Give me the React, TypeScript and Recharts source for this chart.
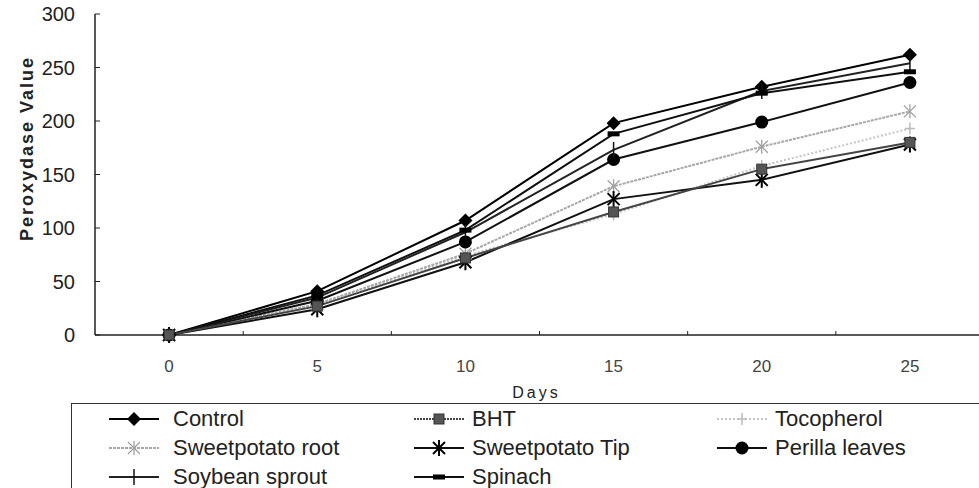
import React from 'react';
import { LineChart, Line, XAxis, YAxis, Legend } from 'recharts';

const days = [0, 5, 10, 15, 20, 25];
const control = [0, 41, 107, 198, 232, 262];
const bht = [0, 27, 72, 115, 155, 180];
const tocopherol = [0, 28, 74, 113, 158, 193];
const sweetpotatoRoot = [0, 29, 76, 139, 176, 209];
const sweetpotatoTip = [0, 24, 68, 127, 145, 178];
const perillaLeaves = [0, 32, 87, 164, 199, 236];
const soybeanSprout = [0, 35, 96, 173, 228, 254];
const spinach = [0, 37, 98, 188, 226, 246];

const yTicks = [0, 50, 100, 150, 200, 250, 300];
// labels sit on the days, small tick marks sit half way between them
const xTicks = [0, 2.5, 5, 7.5, 10, 12.5, 15, 17.5, 20, 22.5, 25];

const FONT = '"Liberation Sans", Arial, sans-serif';

type Kind = 'diamond' | 'square' | 'tplus' | 'xstar' | 'star' | 'circle' | 'plus' | 'dash';

const series: { key: string; name: string; values: number[]; color: string; width: number; dash?: string; legendDash?: string; kind: Kind }[] = [
  { key: 'control', name: 'Control', values: control, color: '#000', width: 2, kind: 'diamond' },
  { key: 'bht', name: 'BHT', values: bht, color: '#444', width: 2, legendDash: '2 1', kind: 'square' },
  { key: 'tocopherol', name: 'Tocopherol', values: tocopherol, color: '#c4c4c4', width: 2, dash: '2 2', legendDash: '2 2', kind: 'tplus' },
  { key: 'sweetpotatoRoot', name: 'Sweetpotato root', values: sweetpotatoRoot, color: '#a8a8a8', width: 2, dash: '3 1', legendDash: '3 1', kind: 'xstar' },
  { key: 'sweetpotatoTip', name: 'Sweetpotato Tip', values: sweetpotatoTip, color: '#111', width: 2, kind: 'star' },
  { key: 'perillaLeaves', name: 'Perilla leaves', values: perillaLeaves, color: '#111', width: 2, kind: 'circle' },
  { key: 'soybeanSprout', name: 'Soybean sprout', values: soybeanSprout, color: '#222', width: 2, kind: 'plus' },
  { key: 'spinach', name: 'Spinach', values: spinach, color: '#111', width: 2, kind: 'dash' },
];

// BHT's square sits on top of the others at day 0 in the original
const drawOrder = [...series.filter((s) => s.key !== 'bht'), ...series.filter((s) => s.key === 'bht')];

const data = days.map((day, i) => {
  const row: Record<string, number> = { day };
  series.forEach((s) => {
    row[s.key] = s.values[i];
  });
  return row;
});

function Marker({ kind, cx, cy }: { kind: Kind; cx: number; cy: number }) {
  switch (kind) {
    case 'diamond':
      return <polygon points={`${cx},${cy - 7} ${cx + 7},${cy} ${cx},${cy + 7} ${cx - 7},${cy}`} fill="#000" />;
    case 'square':
      return <rect x={cx - 5} y={cy - 5} width={10} height={10} fill="#555" stroke="#333" strokeWidth={1} />;
    case 'tplus':
      return (
        <g stroke="#bbb" strokeWidth={1.5}>
          <line x1={cx} y1={cy - 6} x2={cx} y2={cy + 6} />
          <line x1={cx - 5} y1={cy} x2={cx + 5} y2={cy} />
        </g>
      );
    case 'xstar':
      return (
        <g stroke="#a0a0a0" strokeWidth={1.3}>
          <line x1={cx - 6} y1={cy - 6} x2={cx + 6} y2={cy + 6} />
          <line x1={cx - 6} y1={cy + 6} x2={cx + 6} y2={cy - 6} />
          <line x1={cx} y1={cy - 7} x2={cx} y2={cy + 7} />
        </g>
      );
    case 'star':
      return (
        <g stroke="#000" strokeWidth={2}>
          <line x1={cx - 6} y1={cy - 6} x2={cx + 6} y2={cy + 6} />
          <line x1={cx - 6} y1={cy + 6} x2={cx + 6} y2={cy - 6} />
          <line x1={cx} y1={cy - 8} x2={cx} y2={cy + 8} />
        </g>
      );
    case 'circle':
      return <circle cx={cx} cy={cy} r={6.5} fill="#000" />;
    case 'plus':
      return <line x1={cx} y1={cy - 8} x2={cx} y2={cy + 8} stroke="#111" strokeWidth={1.5} />;
    case 'dash':
      return <rect x={cx - 6} y={cy - 2.5} width={12} height={5} fill="#000" />;
    default:
      return null;
  }
}

const renderXTick = (props: any) => {
  const { x, y, payload } = props;
  if (days.includes(payload.value)) {
    return (
      <text x={x} y={y + 37} textAnchor="middle" fontSize={17} fill="#444" fontFamily={FONT}>
        {payload.value}
      </text>
    );
  }
  return <line x1={x} y1={y - 4} x2={x} y2={y} stroke="#222" strokeWidth={1} />;
};

const renderYLabel = (props: any) => {
  const vb = props.viewBox;
  const x = vb.x + 33;
  const y = vb.y + vb.height / 2 - 26;
  return (
    <text
      x={x}
      y={y}
      transform={`rotate(-90 ${x} ${y})`}
      textAnchor="middle"
      fontSize={18}
      fontWeight="bold"
      letterSpacing={2}
      fill="#222"
      fontFamily={FONT}
    >
      Peroxydase Value
    </text>
  );
};

const renderXLabel = (props: any) => {
  const vb = props.viewBox;
  return (
    <text x={vb.x + vb.width / 2 - 3} y={vb.y + 63} textAnchor="middle" fontSize={16} letterSpacing={3} fill="#222" fontFamily={FONT}>
      Days
    </text>
  );
};

const colX = [37, 342, 645];

// keep the legend in the order the series were given (3 per row)
const renderLegend = () => (
  <div
    style={{
      position: 'relative',
      width: 940,
      height: 100,
      borderTop: '1.5px solid #333',
      borderLeft: '1.5px solid #333',
      fontFamily: FONT,
    }}
  >
    {series.map((s, i) => (
      <div
        key={s.key}
        style={{
          position: 'absolute',
          left: colX[i % 3],
          top: Math.floor(i / 3) * 29,
          height: 29,
          display: 'flex',
          alignItems: 'center',
          whiteSpace: 'nowrap',
        }}
      >
        <svg width={50} height={20}>
          <line x1={0} y1={10} x2={50} y2={10} stroke={s.color} strokeWidth={s.width} strokeDasharray={s.legendDash} />
          <Marker kind={s.kind} cx={25} cy={10} />
        </svg>
        <span style={{ marginLeft: i % 3 === 0 ? 14 : 8, fontSize: 22, color: '#222' }}>{s.name}</span>
      </div>
    ))}
  </div>
);

export default function App() {
  return (
    <div style={{ position: 'absolute', left: 0, top: 0, width: 979, height: 488, overflow: 'hidden', background: '#fff' }}>
      <LineChart width={984} height={488} data={data} margin={{ top: 14, right: 0, bottom: 0, left: 0 }}>
        <XAxis
          xAxisId="top"
          orientation="top"
          type="number"
          dataKey="day"
          domain={[-2.5, 27.5]}
          allowDataOverflow
          height={0}
          tick={false}
          tickLine={false}
          axisLine={{ stroke: '#222', strokeWidth: 1.5 }}
        />
        <XAxis
          dataKey="day"
          type="number"
          domain={[-2.5, 27.5]}
          allowDataOverflow
          ticks={xTicks}
          interval={0}
          height={153}
          tickLine={false}
          tickSize={0}
          tickMargin={0}
          tick={renderXTick}
          axisLine={{ stroke: '#222', strokeWidth: 1.5 }}
          label={{ content: renderXLabel }}
        />
        <YAxis
          domain={[0, 300]}
          ticks={yTicks}
          interval={0}
          width={95}
          tickSize={-5}
          tickMargin={25}
          axisLine={{ stroke: '#222', strokeWidth: 1.5 }}
          tickLine={{ stroke: '#222' }}
          tick={{ fontSize: 20, fill: '#222', fontFamily: FONT }}
          label={{ content: renderYLabel }}
        />
        <Legend
          layout="vertical"
          align="center"
          verticalAlign="middle"
          content={renderLegend}
          wrapperStyle={{ left: 71, top: 403, width: 940, height: 100 }}
        />
        {drawOrder.map((s) => (
          <Line
            key={s.key}
            dataKey={s.key}
            name={s.name}
            stroke={s.color}
            strokeWidth={s.width}
            strokeDasharray={s.dash}
            isAnimationActive={false}
            dot={(p: any) => <Marker key={`${s.key}-${p.index}`} kind={s.kind} cx={p.cx} cy={p.cy} />}
            activeDot={false}
          />
        ))}
      </LineChart>
    </div>
  );
}
